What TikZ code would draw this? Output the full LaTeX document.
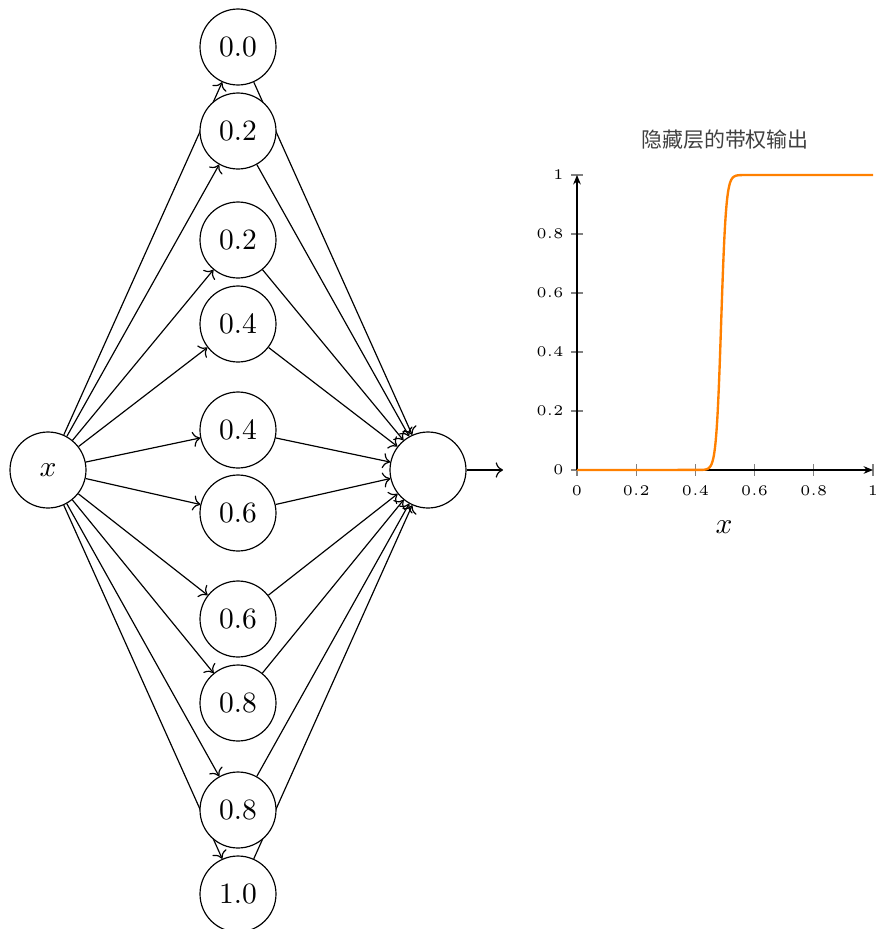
\documentclass[tikz,border=0pt]{standalone}
\usepackage{fontspec}
\newfontfamily\cjk{Noto Sans CJK SC}
\usetikzlibrary{backgrounds,arrows.meta}
\begin{document}
\begin{tikzpicture}[x=0.339pt,y=-0.339pt,
  neuron/.style={circle,draw,fill=white,minimum size=25.76pt,inner sep=0pt},
  conn/.style={->},
  axisline/.style={-{Stealth[length=3.2pt,width=2.6pt]}},
  tickmark/.style={gray},
  ticklabel/.style={font=\tiny,inner sep=1pt},
  curve/.style={orange,thick}]
\useasboundingbox (0,0) rectangle (876,929);
% network
\node[neuron] (in) at (48,470) {$x$};
\foreach \n/\y/\l in {h1/47/0.0, h2/131/0.2, h3/240/0.2, h4/324/0.4, h5/430/0.4, h6/513/0.6, h7/619/0.6, h8/703/0.8, h9/810/0.8, h10/894/1.0}
  \node[neuron] (\n) at (238,\y) {\l};
\node[neuron] (out) at (428,470) {};
\coordinate (outend) at (503,470);
\begin{pgfonlayer}{background}
\foreach \n in {h1,h2,h3,h4,h5,h6,h7,h8,h9,h10} {
  \draw[conn] (in) -- (\n);
  \draw[conn] (\n) -- (out);
}
\end{pgfonlayer}
\draw[conn] (out) -- (outend);
% plot
\node[font=\cjk\fontsize{7.1}{8}\selectfont,text=black!75] (title) at (725,140) {隐藏层的带权输出};
\foreach \i/\t in {0/0,1/0.2,2/0.4,3/0.6,4/0.8,5/1} {
  \draw[tickmark] ({571},{470-59*\i}) -- ({583},{470-59*\i});
  \node[ticklabel,anchor=east] at (567,{470-59*\i}) {$\t$};
  \draw[tickmark] ({577+59.2*\i},464) -- ({577+59.2*\i},476);
  \node[ticklabel] at ({577+59.2*\i},491) {$\t$};
}
\draw[axisline] (577,470) -- (577,175);
\draw[axisline] (577,470) -- (873,470);
\draw[curve] (577,470) -- plot[domain=0.42:0.56,samples=90] ({577+296*\x},{470-295/(1+exp(-120*(\x-0.487)))}) -- (873,175);
\node (xlabel) at (724,527) {$x$};
\end{tikzpicture}
\end{document}
